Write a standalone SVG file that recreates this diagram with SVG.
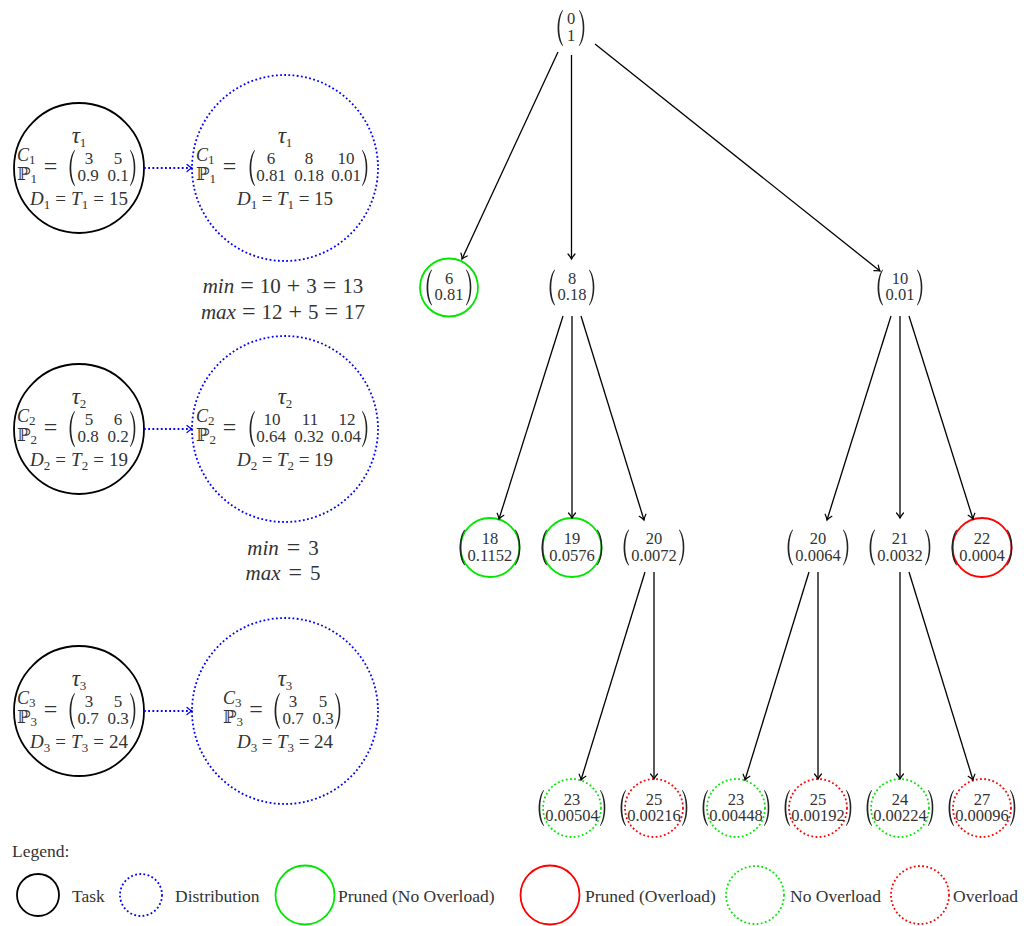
<svg xmlns="http://www.w3.org/2000/svg" width="1024" height="926" viewBox="0 0 1024 926">
<style>
  text { font-family: "Liberation Serif", "DejaVu Serif", serif; fill: #333; }
  .m { font-size: 19px; }
  .bd { font-size: 21px; }
  .op { font-size: 24px; }
  .cp { font-size: 18px; }
  .eq { font-size: 24px; text-anchor: middle; }
  .tau { font-size: 23px; font-style: italic; }
  .it { font-style: italic; }
  .bb { font-family: "DejaVu Serif", "DejaVu Sans", serif; font-style: normal; }
  .sub { font-size: 13px; font-style: normal; }
  .ent { font-size: 17px; text-anchor: middle; }
  .num { font-size: 16.5px; text-anchor: middle; }
  .mid { text-anchor: middle; }
  .lg { font-size: 17.5px; }
  .paren { fill: #222; }
  .task { fill: none; stroke: #000; stroke-width: 1.8; }
  .dist { fill: none; stroke: #0000ff; stroke-width: 1.8; stroke-dasharray: 1.8 2.4; }
  .pg { fill: none; stroke: #00e600; stroke-width: 1.8; }
  .pr { fill: none; stroke: #ff0000; stroke-width: 1.8; }
  .ng { fill: none; stroke: #00e600; stroke-width: 1.8; stroke-dasharray: 1.8 2.4; }
  .nr { fill: none; stroke: #ff0000; stroke-width: 1.8; stroke-dasharray: 1.8 2.4; }
  .edge { stroke: #000; stroke-width: 1.3; fill: none; marker-end: url(#ak); }
  .darr { stroke: #0000ff; stroke-width: 1.8; stroke-dasharray: 1.8 2.4; fill: none; marker-end: url(#ab); }
</style>
<defs>
  <!-- tall delimiters, 8 wide and 36 high, origin at top-left -->
  <path id="lp" class="paren" d="M7.5 0 C1 8 1 28 7.5 36 L8 35.4 C3 27 3 9 8 0.6 Z"/>
  <path id="rp" class="paren" d="M0.5 0 C7 8 7 28 0.5 36 L0 35.4 C5 27 5 9 0 0.6 Z"/>
  <marker id="ak" markerUnits="userSpaceOnUse" viewBox="-6 -6 12 12" markerWidth="12" markerHeight="12" refX="0" refY="0" orient="auto" overflow="visible">
    <path d="M-5 -3.5 Q-2 -0.8 0 0 Q-2 0.8 -5 3.5" fill="none" stroke="#000" stroke-width="1.2" stroke-linecap="round"/>
  </marker>
  <marker id="ab" markerUnits="userSpaceOnUse" viewBox="-6 -6 12 12" markerWidth="12" markerHeight="12" refX="0" refY="0" orient="auto" overflow="visible">
    <path d="M-5 -3.5 Q-2 -0.8 0 0 Q-2 0.8 -5 3.5" fill="none" stroke="#0000ff" stroke-width="1.2" stroke-linecap="round"/>
  </marker>
</defs>

<!-- ============ tasks and their distributions ============ -->
<g id="task1">
  <circle class="task" cx="79" cy="168" r="65"/>
  <text class="m mid" x="79" y="143"><tspan class="tau">τ</tspan><tspan class="sub" dy="4">1</tspan></text>
  <text class="cp" x="17" y="161"><tspan class="it">C</tspan><tspan class="sub" dy="3">1</tspan><tspan class="bb" x="17" dy="16">ℙ</tspan><tspan class="sub" dy="3">1</tspan></text>
  <text class="eq" x="50.5" y="174">=</text>
  <use href="#lp" x="67" y="150"/><use href="#rp" x="130" y="150"/>
  <text class="ent" x="89" y="164">3<tspan x="88" dy="17">0.9</tspan></text>
  <text class="ent" x="118" y="164">5<tspan x="118" dy="17">0.1</tspan></text>
  <text class="m mid" x="79" y="205" textLength="98" lengthAdjust="spacing"><tspan class="it">D</tspan><tspan class="sub" dy="4">1</tspan><tspan dy="-4"> = </tspan><tspan class="it">T</tspan><tspan class="sub" dy="4">1</tspan><tspan dy="-4"> = 15</tspan></text>
</g>
<g id="dist1">
  <circle class="dist" cx="285" cy="168" r="93"/>
  <text class="m mid" x="285" y="143"><tspan class="tau">τ</tspan><tspan class="sub" dy="4">1</tspan></text>
  <text class="cp" x="196" y="161"><tspan class="it">C</tspan><tspan class="sub" dy="3">1</tspan><tspan class="bb" x="196" dy="16">ℙ</tspan><tspan class="sub" dy="3">1</tspan></text>
  <text class="eq" x="229.5" y="174">=</text>
  <use href="#lp" x="247" y="150"/><use href="#rp" x="362" y="150"/>
  <text class="ent" x="271" y="164">6<tspan x="271" dy="17">0.81</tspan></text>
  <text class="ent" x="309" y="164">8<tspan x="309" dy="17">0.18</tspan></text>
  <text class="ent" x="346" y="164">10<tspan x="346" dy="17">0.01</tspan></text>
  <text class="m mid" x="285" y="205" textLength="96" lengthAdjust="spacing"><tspan class="it">D</tspan><tspan class="sub" dy="4">1</tspan><tspan dy="-4"> = </tspan><tspan class="it">T</tspan><tspan class="sub" dy="4">1</tspan><tspan dy="-4"> = 15</tspan></text>
</g>
<g id="bounds1">
  <text class="bd mid" x="283" y="293"><tspan class="it">min</tspan><tspan class="op" dx="6">=</tspan><tspan dx="6">10</tspan><tspan class="op" dx="6">+</tspan><tspan dx="6">3</tspan><tspan class="op" dx="6">=</tspan><tspan dx="6">13</tspan></text>
  <text class="bd mid" x="283" y="319"><tspan class="it">max</tspan><tspan class="op" dx="6">=</tspan><tspan dx="6">12</tspan><tspan class="op" dx="6">+</tspan><tspan dx="6">5</tspan><tspan class="op" dx="6">=</tspan><tspan dx="6">17</tspan></text>
</g>

<g id="task2">
  <circle class="task" cx="79" cy="429" r="65"/>
  <text class="m mid" x="79" y="404"><tspan class="tau">τ</tspan><tspan class="sub" dy="4">2</tspan></text>
  <text class="cp" x="17" y="422"><tspan class="it">C</tspan><tspan class="sub" dy="3">2</tspan><tspan class="bb" x="17" dy="16">ℙ</tspan><tspan class="sub" dy="3">2</tspan></text>
  <text class="eq" x="50.5" y="435">=</text>
  <use href="#lp" x="67" y="411"/><use href="#rp" x="130" y="411"/>
  <text class="ent" x="89" y="425">5<tspan x="88" dy="17">0.8</tspan></text>
  <text class="ent" x="118" y="425">6<tspan x="118" dy="17">0.2</tspan></text>
  <text class="m mid" x="79" y="466" textLength="98" lengthAdjust="spacing"><tspan class="it">D</tspan><tspan class="sub" dy="4">2</tspan><tspan dy="-4"> = </tspan><tspan class="it">T</tspan><tspan class="sub" dy="4">2</tspan><tspan dy="-4"> = 19</tspan></text>
</g>
<g id="dist2">
  <circle class="dist" cx="285" cy="429" r="93"/>
  <text class="m mid" x="285" y="404"><tspan class="tau">τ</tspan><tspan class="sub" dy="4">2</tspan></text>
  <text class="cp" x="196" y="422"><tspan class="it">C</tspan><tspan class="sub" dy="3">2</tspan><tspan class="bb" x="196" dy="16">ℙ</tspan><tspan class="sub" dy="3">2</tspan></text>
  <text class="eq" x="229.5" y="435">=</text>
  <use href="#lp" x="247" y="411"/><use href="#rp" x="362" y="411"/>
  <text class="ent" x="272" y="425">10<tspan x="271" dy="17">0.64</tspan></text>
  <text class="ent" x="310" y="425">11<tspan x="309" dy="17">0.32</tspan></text>
  <text class="ent" x="347" y="425">12<tspan x="346" dy="17">0.04</tspan></text>
  <text class="m mid" x="285" y="466" textLength="96" lengthAdjust="spacing"><tspan class="it">D</tspan><tspan class="sub" dy="4">2</tspan><tspan dy="-4"> = </tspan><tspan class="it">T</tspan><tspan class="sub" dy="4">2</tspan><tspan dy="-4"> = 19</tspan></text>
</g>
<g id="bounds2">
  <text class="bd mid" x="283" y="555"><tspan class="it">min</tspan><tspan class="op" dx="8">=</tspan><tspan dx="8">3</tspan></text>
  <text class="bd mid" x="283" y="580"><tspan class="it">max</tspan><tspan class="op" dx="8">=</tspan><tspan dx="8">5</tspan></text>
</g>

<g id="task3">
  <circle class="task" cx="79" cy="711" r="65"/>
  <text class="m mid" x="79" y="686"><tspan class="tau">τ</tspan><tspan class="sub" dy="4">3</tspan></text>
  <text class="cp" x="17" y="704"><tspan class="it">C</tspan><tspan class="sub" dy="3">3</tspan><tspan class="bb" x="17" dy="16">ℙ</tspan><tspan class="sub" dy="3">3</tspan></text>
  <text class="eq" x="50.5" y="717">=</text>
  <use href="#lp" x="67" y="693"/><use href="#rp" x="130" y="693"/>
  <text class="ent" x="89" y="707">3<tspan x="88" dy="17">0.7</tspan></text>
  <text class="ent" x="118" y="707">5<tspan x="118" dy="17">0.3</tspan></text>
  <text class="m mid" x="79" y="748" textLength="98" lengthAdjust="spacing"><tspan class="it">D</tspan><tspan class="sub" dy="4">3</tspan><tspan dy="-4"> = </tspan><tspan class="it">T</tspan><tspan class="sub" dy="4">3</tspan><tspan dy="-4"> = 24</tspan></text>
</g>
<g id="dist3">
  <circle class="dist" cx="285" cy="711" r="93"/>
  <text class="m mid" x="285" y="686"><tspan class="tau">τ</tspan><tspan class="sub" dy="4">3</tspan></text>
  <text class="cp" x="223" y="704"><tspan class="it">C</tspan><tspan class="sub" dy="3">3</tspan><tspan class="bb" x="223" dy="16">ℙ</tspan><tspan class="sub" dy="3">3</tspan></text>
  <text class="eq" x="256" y="717">=</text>
  <use href="#lp" x="272" y="693"/><use href="#rp" x="335" y="693"/>
  <text class="ent" x="293" y="707">3<tspan x="293" dy="17">0.7</tspan></text>
  <text class="ent" x="323" y="707">5<tspan x="323" dy="17">0.3</tspan></text>
  <text class="m mid" x="285" y="748" textLength="96" lengthAdjust="spacing"><tspan class="it">D</tspan><tspan class="sub" dy="4">3</tspan><tspan dy="-4"> = </tspan><tspan class="it">T</tspan><tspan class="sub" dy="4">3</tspan><tspan dy="-4"> = 24</tspan></text>
</g>

<!-- ============ scheduling tree ============ -->
<g id="n0">
  <use href="#lp" x="555" y="10"/><use href="#rp" x="579" y="10"/>
  <text class="num" x="571" y="24">0<tspan x="571" dy="17">1</tspan></text>
</g>
<g id="n6">
  <circle class="pg" cx="449" cy="287.5" r="29"/>
  <use href="#lp" x="424" y="269.5"/><use href="#rp" x="466" y="269.5"/>
  <text class="num" x="449" y="284">6<tspan x="449" dy="16">0.81</tspan></text>
</g>
<g id="n8">
  <use href="#lp" x="547" y="269.5"/><use href="#rp" x="589" y="269.5"/>
  <text class="num" x="572" y="284">8<tspan x="572" dy="16">0.18</tspan></text>
</g>
<g id="n10">
  <use href="#lp" x="875" y="269.5"/><use href="#rp" x="917" y="269.5"/>
  <text class="num" x="900" y="284">10<tspan x="900" dy="16">0.01</tspan></text>
</g>

<g id="n18">
  <circle class="pg" cx="490" cy="547.5" r="29.5"/>
  <use href="#lp" x="457" y="529.5"/><use href="#rp" x="515" y="529.5"/>
  <text class="num" x="490" y="544">18<tspan x="490" dy="16.5">0.1152</tspan></text>
</g>
<g id="n19">
  <circle class="pg" cx="572" cy="547.5" r="29.5"/>
  <use href="#lp" x="539" y="529.5"/><use href="#rp" x="597" y="529.5"/>
  <text class="num" x="572" y="544">19<tspan x="572" dy="16.5">0.0576</tspan></text>
</g>
<g id="n20a">
  <use href="#lp" x="621" y="529.5"/><use href="#rp" x="679" y="529.5"/>
  <text class="num" x="654" y="544">20<tspan x="654" dy="16.5">0.0072</tspan></text>
</g>
<g id="n20b">
  <use href="#lp" x="785" y="529.5"/><use href="#rp" x="843" y="529.5"/>
  <text class="num" x="818" y="544">20<tspan x="818" dy="16.5">0.0064</tspan></text>
</g>
<g id="n21">
  <use href="#lp" x="867" y="529.5"/><use href="#rp" x="925" y="529.5"/>
  <text class="num" x="900" y="544">21<tspan x="900" dy="16.5">0.0032</tspan></text>
</g>
<g id="n22">
  <circle class="pr" cx="982" cy="547.5" r="29.5"/>
  <use href="#lp" x="949" y="529.5"/><use href="#rp" x="1007" y="529.5"/>
  <text class="num" x="982" y="544">22<tspan x="982" dy="16.5">0.0004</tspan></text>
</g>

<g id="n23a">
  <circle class="ng" cx="572" cy="808" r="29"/>
  <use href="#lp" x="536" y="790"/><use href="#rp" x="600" y="790"/>
  <text class="num" x="572" y="805">23<tspan x="572" dy="16">0.00504</tspan></text>
</g>
<g id="n25a">
  <circle class="nr" cx="654" cy="808" r="29"/>
  <use href="#lp" x="618" y="790"/><use href="#rp" x="682" y="790"/>
  <text class="num" x="654" y="805">25<tspan x="654" dy="16">0.00216</tspan></text>
</g>
<g id="n23b">
  <circle class="ng" cx="736" cy="808" r="29"/>
  <use href="#lp" x="700" y="790"/><use href="#rp" x="764" y="790"/>
  <text class="num" x="736" y="805">23<tspan x="736" dy="16">0.00448</tspan></text>
</g>
<g id="n25b">
  <circle class="nr" cx="818" cy="808" r="29"/>
  <use href="#lp" x="782" y="790"/><use href="#rp" x="846" y="790"/>
  <text class="num" x="818" y="805">25<tspan x="818" dy="16">0.00192</tspan></text>
</g>
<g id="n24">
  <circle class="ng" cx="900" cy="808" r="29"/>
  <use href="#lp" x="864" y="790"/><use href="#rp" x="928" y="790"/>
  <text class="num" x="900" y="805">24<tspan x="900" dy="16">0.00224</tspan></text>
</g>
<g id="n27">
  <circle class="nr" cx="982" cy="808" r="29"/>
  <use href="#lp" x="946" y="790"/><use href="#rp" x="1010" y="790"/>
  <text class="num" x="982" y="805">27<tspan x="982" dy="16">0.00096</tspan></text>
</g>

<!-- ============ connectors ============ -->
<g id="connectors">
  <line class="darr" x1="144" y1="168" x2="192" y2="168"/>
  <line class="darr" x1="144" y1="429" x2="192" y2="429"/>
  <line class="darr" x1="144" y1="711" x2="192" y2="711"/>

  <line class="edge" x1="558" y1="52" x2="462" y2="259"/>
  <line class="edge" x1="571.5" y1="55" x2="571.5" y2="259"/>
  <line class="edge" x1="595" y1="44" x2="880" y2="271"/>

  <line class="edge" x1="563" y1="316" x2="499" y2="519"/>
  <line class="edge" x1="572" y1="316" x2="572" y2="518"/>
  <line class="edge" x1="581" y1="316" x2="644" y2="520"/>
  <line class="edge" x1="891" y1="316" x2="827" y2="520"/>
  <line class="edge" x1="900" y1="316" x2="900" y2="518"/>
  <line class="edge" x1="909" y1="316" x2="973" y2="519"/>

  <line class="edge" x1="645" y1="572" x2="581" y2="780"/>
  <line class="edge" x1="654" y1="572" x2="654" y2="779"/>
  <line class="edge" x1="809" y1="572" x2="745" y2="780"/>
  <line class="edge" x1="818" y1="572" x2="818" y2="779"/>
  <line class="edge" x1="900" y1="572" x2="900" y2="779"/>
  <line class="edge" x1="909" y1="572" x2="973" y2="780"/>
</g>

<!-- ============ legend ============ -->
<g id="legend">
  <text class="lg" x="12" y="857">Legend:</text>
  <circle class="task" cx="38" cy="895" r="21"/>
  <text class="lg" x="72" y="902">Task</text>
  <circle class="dist" cx="141" cy="895" r="21"/>
  <text class="lg" x="175" y="902">Distribution</text>
  <circle class="pg" cx="305" cy="895" r="29.5"/>
  <text class="lg" x="338" y="902">Pruned (No Overload)</text>
  <circle class="pr" cx="550" cy="895" r="29.5"/>
  <text class="lg" x="585" y="902">Pruned (Overload)</text>
  <circle class="ng" cx="755" cy="895" r="29"/>
  <text class="lg" x="790" y="902">No Overload</text>
  <circle class="nr" cx="920" cy="895" r="29"/>
  <text class="lg" x="953" y="902">Overload</text>
</g>
</svg>
